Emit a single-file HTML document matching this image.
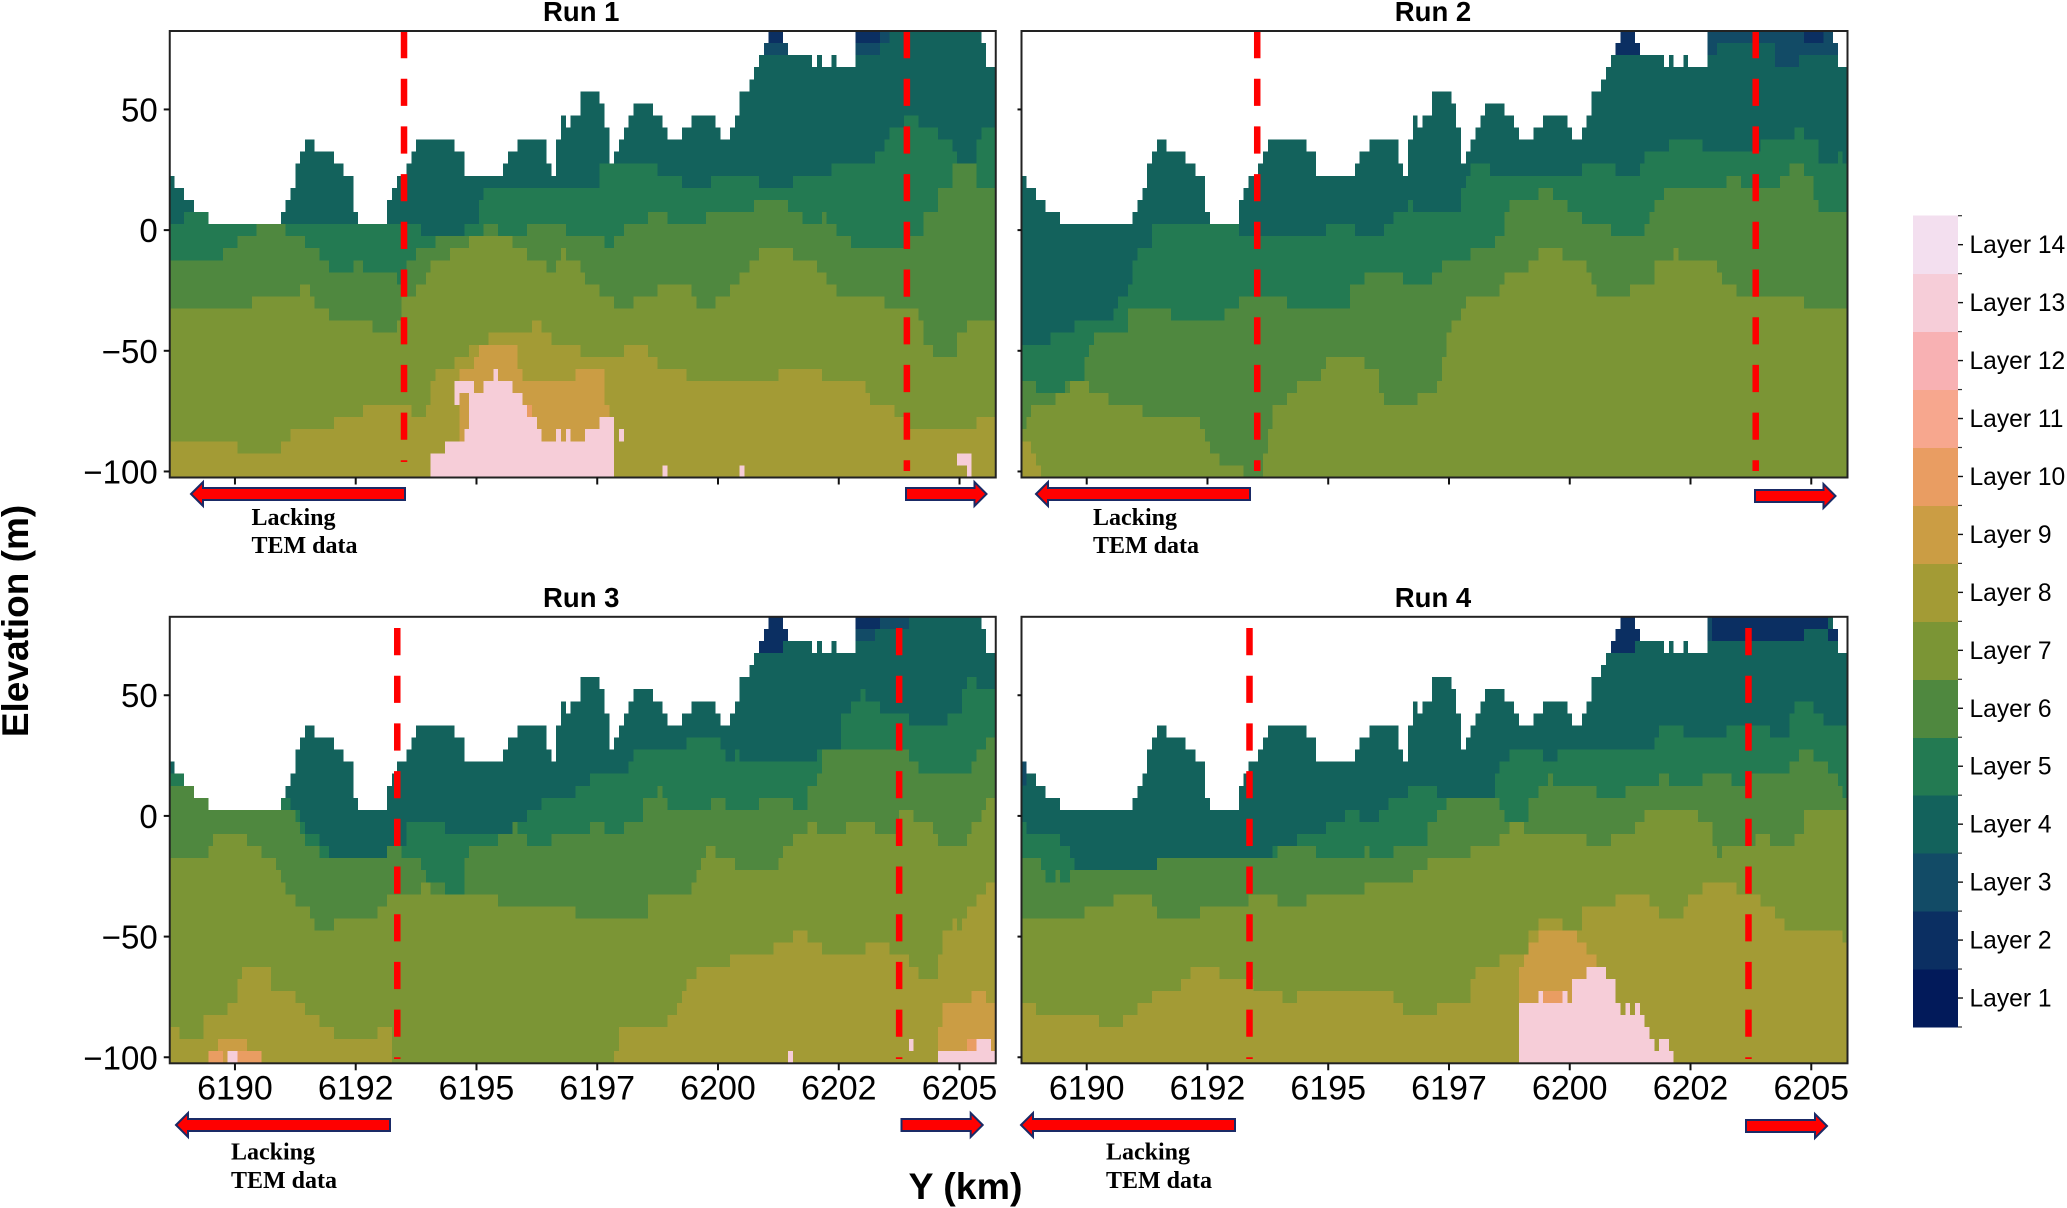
<!DOCTYPE html>
<html lang="en">
<head>
<meta charset="utf-8">
<title>Layer elevation sections, Runs 1 to 4</title>
<style>
html,body{margin:0;padding:0;background:#fff;width:2067px;height:1208px;overflow:hidden}
svg{display:block;font-family:"Liberation Sans",Arial,sans-serif}
.mark{shape-rendering:crispEdges}
</style>
</head>
<body>
<svg id="figure" xmlns="http://www.w3.org/2000/svg" width="2067" height="1208" viewBox="0 0 2067 1208">
<text transform="translate(28,621) rotate(-90)" text-anchor="middle" font-size="37" font-weight="bold" fill="#000">Elevation (m)</text>
<text x="965.5" y="1199" text-anchor="middle" font-size="37.5" font-weight="bold" fill="#000">Y (km)</text>
</svg>
<script>
// Layer legend
const layerNames = ['Layer 1','Layer 2','Layer 3','Layer 4','Layer 5','Layer 6','Layer 7','Layer 8','Layer 9','Layer 10','Layer 11','Layer 12','Layer 13','Layer 14'];
const layerColors = ['#021a5a','#0b2f62','#124b66','#13625c','#237a52','#4f883f','#7b9535','#a39b35','#cb9d44','#e99d62','#f7a78e','#f8b1b3','#f6cdd8','#f3dfef'];

// Axis ticks
const xTickValues = [6190,6192.5,6195,6197.5,6200,6202.5,6205];
const xTickLabels = ['6190','6192','6195','6197','6200','6202','6205'];
const yTickValues = [50,0,-50,-100];
const yTickLabels = ['50','0','\u221250','\u2212100'];

// Step profiles: [distance along section in km from section start, elevation in m]
const surface = [[0,22.5],[.1,17.5],[.3,12.5],[.5,7.5],[.8,2.5],[2.3,7.5],[2.4,12.5],[2.5,17.5],[2.6,27.5],[2.7,32.5],[2.8,37.5],[3.0,32.5],[3.4,27.5],[3.6,22.5],[3.8,7.5],[3.9,2.5],[4.5,12.5],[4.6,17.5],[4.7,22.5],[4.9,27.5],[5.0,32.5],[5.1,37.5],[5.9,32.5],[6.1,22.5],[6.9,27.5],[7.0,32.5],[7.2,37.5],[7.8,27.5],[7.9,22.5],[8.0,37.5],[8.1,47.5],[8.2,42.5],[8.3,47.5],[8.5,57.5],[8.9,52.5],[9.0,42.5],[9.1,27.5],[9.2,32.5],[9.3,37.5],[9.4,42.5],[9.5,47.5],[9.6,52.5],[10.0,47.5],[10.2,42.5],[10.3,37.5],[10.6,42.5],[10.8,47.5],[11.3,42.5],[11.4,37.5],[11.6,42.5],[11.7,47.5],[11.8,57.5],[12.0,62.5],[12.1,67.5],[12.2,72.5],[12.3,77.5],[12.4,82.5],[12.7,77.5],[12.8,72.5],[13.3,67.5],[13.4,72.5],[13.5,67.5],[13.7,72.5],[13.8,67.5],[14.2,82.5],[16.8,77.5],[16.9,67.5]];

const run1Layer5 = [[0,2.5],[.3,7.5],[.8,2.5],[5.2,-2.5],[6.1,2.5],[6.4,12.5],[6.5,17.5],[8.9,27.5],[10.1,22.5],[10.6,17.5],[11.2,22.5],[12.2,17.5],[12.9,22.5],[13.7,27.5],[14.6,32.5],[14.8,37.5],[14.9,42.5],[15.2,47.5],[15.5,42.5],[15.9,37.5],[16.2,32.5],[16.3,27.5],[16.7,37.5],[16.8,42.5]];
const run1Layer6 = [[0,-12.5],[1.1,-7.5],[1.4,-2.5],[1.8,2.5],[2.4,-2.5],[2.8,-7.5],[3.1,-12.5],[3.3,-17.5],[3.8,-12.5],[4.0,-17.5],[4.7,-22.5],[4.9,-12.5],[5.1,-7.5],[5.5,-2.5],[6.5,2.5],[6.8,-2.5],[7.4,2.5],[8.2,-2.5],[9.0,-7.5],[9.2,-2.5],[9.4,2.5],[9.9,7.5],[10.3,2.5],[11.1,7.5],[12.1,12.5],[12.8,7.5],[13.1,2.5],[13.5,7.5],[13.6,2.5],[13.8,-2.5],[14.1,-7.5],[15.3,-2.5],[15.6,7.5],[15.9,17.5],[16.2,27.5],[16.7,17.5]];
const run1Layer7 = [[0,-32.5],[1.7,-27.5],[2.7,-22.5],[2.9,-27.5],[3.0,-32.5],[3.3,-37.5],[4.2,-42.5],[4.7,-37.5],[4.8,-27.5],[5.1,-22.5],[5.3,-17.5],[5.4,-12.5],[5.8,-7.5],[6.2,-2.5],[7.1,-7.5],[7.4,-12.5],[7.8,-17.5],[8.0,-12.5],[8.1,-7.5],[8.2,-12.5],[8.5,-17.5],[8.6,-22.5],[8.9,-27.5],[9.2,-32.5],[9.6,-27.5],[10.1,-22.5],[10.8,-27.5],[10.9,-32.5],[11.3,-27.5],[11.6,-22.5],[11.8,-17.5],[12.0,-12.5],[12.2,-7.5],[12.9,-12.5],[13.4,-17.5],[13.6,-22.5],[13.8,-27.5],[14.8,-32.5],[15.5,-37.5],[15.6,-47.5],[15.8,-52.5],[16.3,-42.5],[16.5,-37.5]];
const run1Layer8 = [[0,-87.5],[1.4,-92.5],[2.3,-87.5],[2.5,-82.5],[3.4,-77.5],[4.0,-72.5],[5.0,-77.5],[5.3,-72.5],[5.4,-62.5],[5.5,-57.5],[5.9,-52.5],[6.2,-47.5],[6.6,-42.5],[7.5,-37.5],[7.7,-42.5],[7.9,-47.5],[8.5,-52.5],[9.4,-47.5],[9.9,-52.5],[10.1,-57.5],[10.7,-62.5],[12.6,-57.5],[13.5,-62.5],[14.4,-67.5],[14.5,-72.5],[15.0,-77.5],[15.3,-82.5],[16.7,-77.5]];
// Patches: [layer number, bottom elevation, end distance, step profile]
const run1Patches = [
 [2,77.5,12.7,[[12.4,82.5]]],[3,72.5,12.8,[[12.3,77.5]]],[2,77.5,14.7,[[14.2,82.5]]],[3,72.5,14.7,[[14.2,77.5]]],[3,77.5,14.9,[[14.7,82.5]]],
 [9,-90,9.2,[[6.0,-57.5],[6.3,-52.5],[6.4,-47.5],[7.2,-57.5],[7.3,-62.5],[8.4,-57.5],[9.0,-72.5],[9.1,-77.5]]],
 [10,-90,7.7,[[7.4,-72.5],[7.5,-77.5],[7.6,-82.5]]],[10,-82.5,9.2,[[9.1,-77.5]]],
 [13,-102.5,9.2,[[5.4,-92.5],[5.7,-87.5],[6.1,-82.5],[6.2,-67.5],[6.5,-62.5],[6.7,-57.5],[6.8,-62.5],[7.1,-67.5],[7.3,-72.5],[7.4,-77.5],[7.6,-82.5],[7.7,-87.5],[8.0,-82.5],[8.1,-87.5],[8.2,-82.5],[8.3,-87.5],[8.6,-82.5],[8.9,-77.5]]],
 [13,-72.5,6.0,[[5.9,-62.5]]],[13,-67.5,6.3,[[6.0,-62.5]]],[13,-87.5,9.4,[[9.3,-82.5]]],[13,-102.5,10.3,[[10.2,-97.5]]],[13,-102.5,11.9,[[11.8,-97.5]]],[13,-97.5,16.6,[[16.3,-92.5]]],[13,-102.5,16.6,[[16.5,-97.5]]]
];

const run2Layer5 = [[0,-47.5],[.6,-42.5],[1.1,-37.5],[1.9,-32.5],[2.0,-27.5],[2.2,-22.5],[2.3,-12.5],[2.4,-7.5],[2.7,2.5],[4.5,-2.5],[6.3,2.5],[6.9,-2.5],[7.5,2.5],[7.7,7.5],[8.0,12.5],[8.1,7.5],[9.1,17.5],[9.2,22.5],[9.3,27.5],[9.7,22.5],[11.6,27.5],[12.3,22.5],[12.8,27.5],[12.9,32.5],[13.4,37.5],[14.1,32.5],[15.3,37.5],[16.0,42.5],[16.2,37.5],[16.5,27.5],[16.9,32.5],[17.0,27.5]];
const run2Layer6 = [[0,-62.5],[.3,-67.5],[.9,-62.5],[1.3,-52.5],[1.4,-47.5],[1.5,-42.5],[2.2,-32.5],[3.1,-37.5],[4.2,-32.5],[4.5,-27.5],[5.5,-32.5],[6.8,-22.5],[7.1,-17.5],[7.9,-22.5],[8.5,-17.5],[8.7,-12.5],[9.3,-7.5],[9.8,-2.5],[10.0,7.5],[10.1,12.5],[10.7,17.5],[11.0,12.5],[11.3,7.5],[11.6,2.5],[12.2,-2.5],[12.9,2.5],[13.0,7.5],[13.1,12.5],[13.3,17.5],[14.6,22.5],[14.9,17.5],[15.7,22.5],[15.9,27.5],[16.2,22.5],[16.4,12.5],[16.5,7.5]];
const run2Layer7 = [[0,-82.5],[.1,-77.5],[.2,-72.5],[.7,-67.5],[1.0,-62.5],[1.4,-67.5],[1.8,-72.5],[2.5,-77.5],[3.7,-82.5],[3.8,-87.5],[3.9,-92.5],[4.1,-97.5],[4.6,-102.5],[5.0,-92.5],[5.1,-82.5],[5.2,-72.5],[5.5,-67.5],[5.7,-62.5],[6.2,-57.5],[6.3,-52.5],[7.1,-57.5],[7.4,-67.5],[7.5,-72.5],[8.2,-67.5],[8.6,-62.5],[8.7,-52.5],[8.8,-42.5],[8.9,-37.5],[9.1,-32.5],[9.2,-27.5],[9.9,-22.5],[10.0,-17.5],[10.5,-12.5],[10.7,-7.5],[11.2,-12.5],[11.7,-17.5],[11.8,-22.5],[11.9,-27.5],[12.6,-22.5],[13.1,-12.5],[13.5,-7.5],[13.6,-12.5],[14.4,-17.5],[14.5,-22.5],[14.8,-27.5],[16.2,-32.5]];
const run2Layer8 = [[0,-87.5],[.2,-92.5],[.3,-97.5],[.4,-102.5]];
const run2Patches = [
 [3,77.5,16.8,[[14.2,82.5]]],[3,72.5,14.4,[[14.2,77.5]]],[3,72.5,16.9,[[15.6,77.5]]],[3,67.5,16.1,[[15.6,72.5]]],
 [2,77.5,12.7,[[12.4,82.5]]],[2,72.5,12.8,[[12.3,77.5]]],[2,77.5,16.6,[[16.2,82.5]]]
];

const run3Layer5 = [[0,17.5],[.3,12.5],[2.4,7.5],[2.5,2.5],[2.7,-2.5],[2.8,-7.5],[3.1,-12.5],[3.3,-17.5],[4.5,-12.5],[4.9,-2.5],[5.7,-7.5],[7.1,-2.5],[7.4,2.5],[7.7,7.5],[8.4,12.5],[8.7,17.5],[9.5,22.5],[9.6,27.5],[10.7,32.5],[11.4,27.5],[11.5,22.5],[11.7,27.5],[11.8,22.5],[13.4,27.5],[13.9,42.5],[14.1,47.5],[14.3,52.5],[14.4,47.5],[14.7,42.5],[15.3,37.5],[16.1,42.5],[16.4,52.5],[16.5,57.5],[16.7,52.5]];
const run3Layer6 = [[0,12.5],[.5,7.5],[.8,2.5],[2.6,-2.5],[2.7,-7.5],[2.8,-12.5],[3.1,-17.5],[4.5,-12.5],[4.8,-17.5],[5.2,-22.5],[5.3,-27.5],[5.7,-32.5],[6.1,-17.5],[6.2,-12.5],[6.8,-7.5],[7.1,-2.5],[7.2,-7.5],[7.4,-12.5],[7.9,-7.5],[8.7,-2.5],[9.0,-7.5],[9.4,-2.5],[9.8,7.5],[10.1,12.5],[10.2,7.5],[10.3,2.5],[11.2,7.5],[11.5,2.5],[12.2,7.5],[12.9,2.5],[13.2,12.5],[13.4,17.5],[13.5,27.5],[15.3,22.5],[15.5,17.5],[16.6,22.5],[16.7,27.5],[16.9,32.5]];
const run3Layer7 = [[0,-17.5],[.8,-12.5],[.9,-7.5],[1.6,-12.5],[1.9,-17.5],[2.2,-22.5],[2.3,-27.5],[2.4,-32.5],[2.6,-37.5],[2.9,-42.5],[3.0,-47.5],[3.4,-42.5],[4.3,-37.5],[4.5,-32.5],[5.2,-27.5],[5.4,-32.5],[6.8,-37.5],[8.4,-42.5],[9.9,-32.5],[10.8,-27.5],[10.9,-22.5],[11.0,-17.5],[11.1,-12.5],[11.3,-17.5],[11.7,-22.5],[12.6,-17.5],[12.7,-12.5],[12.9,-7.5],[13.2,-2.5],[13.4,-7.5],[14.0,-2.5],[14.6,-7.5],[15.1,2.5],[15.4,-2.5],[15.8,-7.5],[15.9,-12.5],[16.5,-7.5],[16.6,-2.5],[16.8,2.5],[16.9,7.5]];
const run3Layer8 = [[0,-87.5],[.2,-92.5],[.7,-82.5],[1.2,-77.5],[1.4,-67.5],[1.5,-62.5],[2.1,-72.5],[2.6,-77.5],[2.8,-82.5],[3.1,-87.5],[3.4,-92.5],[4.3,-87.5],[4.6,-102.5],[9.2,-97.5],[9.3,-87.5],[10.3,-82.5],[10.5,-77.5],[10.6,-72.5],[10.7,-67.5],[10.9,-62.5],[11.6,-57.5],[12.5,-52.5],[12.9,-47.5],[13.2,-52.5],[13.5,-57.5],[14.4,-52.5],[14.9,-57.5],[15.3,-62.5],[15.5,-67.5],[15.9,-57.5],[16.0,-47.5],[16.2,-42.5],[16.3,-47.5],[16.4,-42.5],[16.5,-37.5],[16.7,-32.5],[16.9,-27.5]];
const run3Patches = [
 [2,77.5,12.7,[[12.4,82.5]]],[2,72.5,12.8,[[12.3,77.5]]],[2,67.5,12.7,[[12.2,72.5]]],[2,77.5,14.7,[[14.2,82.5]]],[3,72.5,14.6,[[14.2,77.5]]],[3,77.5,15.3,[[14.7,82.5]]],
 [9,-102.5,1.6,[[1.0,-92.5]]],[10,-102.5,1.1,[[.8,-97.5]]],[10,-102.5,1.9,[[1.4,-97.5]]],[13,-102.5,1.4,[[1.2,-97.5]]],
 [13,-102.5,12.9,[[12.8,-97.5]]],[13,-97.5,15.4,[[15.3,-92.5]]],
 [9,-102.5,17.1,[[15.9,-87.5],[16.0,-77.5],[16.6,-72.5],[16.9,-77.5]]],
 [10,-97.5,16.7,[[16.5,-92.5]]],
 [13,-102.5,17.1,[[15.9,-97.5],[16.7,-92.5],[17.0,-97.5]]]
];

const run4Layer5 = [[0,-2.5],[.1,-7.5],[.8,-12.5],[1.0,-17.5],[1.1,-22.5],[2.8,-17.5],[5.2,-12.5],[5.7,-7.5],[6.3,-2.5],[6.7,2.5],[7.0,-2.5],[7.4,2.5],[7.6,7.5],[8.0,12.5],[8.6,7.5],[9.8,17.5],[9.9,22.5],[10.1,27.5],[10.8,22.5],[11.1,27.5],[13.1,32.5],[13.2,37.5],[13.7,32.5],[14.6,37.5],[15.5,32.5],[15.9,42.5],[16.0,47.5],[16.4,42.5],[16.6,37.5]];
const run4Layer6 = [[0,-17.5],[.4,-22.5],[.5,-27.5],[.7,-22.5],[.8,-27.5],[1.0,-22.5],[2.8,-17.5],[5.3,-12.5],[6.1,-17.5],[7.1,-12.5],[7.2,-17.5],[7.7,-12.5],[8.4,-2.5],[8.6,2.5],[8.8,7.5],[9.9,2.5],[10.0,-2.5],[10.5,7.5],[10.7,12.5],[10.9,17.5],[11.0,12.5],[11.9,7.5],[12.5,12.5],[13.2,17.5],[13.4,12.5],[14.1,17.5],[14.7,12.5],[15.0,17.5],[15.9,22.5],[16.1,27.5],[16.4,22.5],[16.7,17.5],[16.9,12.5],[17.0,7.5]];
const run4Layer7 = [[0,-42.5],[1.3,-37.5],[1.9,-32.5],[2.7,-37.5],[2.8,-42.5],[3.7,-37.5],[4.7,-32.5],[5.3,-37.5],[5.9,-32.5],[7.1,-27.5],[8.1,-22.5],[8.4,-17.5],[9.3,-12.5],[9.9,-7.5],[10.1,-2.5],[10.4,-7.5],[11.7,-12.5],[12.2,-7.5],[12.7,-2.5],[12.9,2.5],[14.0,-2.5],[14.3,-12.5],[14.4,-17.5],[14.5,-12.5],[15.2,-7.5],[15.5,-12.5],[16.0,-7.5],[16.2,2.5]];
const run4Layer8 = [[0,-77.5],[.3,-82.5],[1.6,-87.5],[2.1,-82.5],[2.4,-77.5],[2.7,-72.5],[3.3,-67.5],[3.5,-62.5],[4.1,-67.5],[4.8,-72.5],[5.4,-77.5],[5.7,-72.5],[7.7,-77.5],[7.9,-82.5],[8.6,-77.5],[9.3,-67.5],[9.4,-62.5],[9.9,-57.5],[10.5,-47.5],[10.7,-42.5],[11.2,-47.5],[11.6,-37.5],[12.3,-32.5],[13.0,-37.5],[13.2,-42.5],[13.7,-37.5],[13.8,-32.5],[14.1,-27.5],[14.8,-32.5],[15.3,-37.5],[15.6,-42.5],[15.8,-47.5],[17.0,-52.5]];
const run4Patches = [
 [3,12.5,.1,[[0,22.5]]],
 [2,77.5,12.7,[[12.4,82.5]]],[2,72.5,12.8,[[12.3,77.5]]],[2,67.5,12.7,[[12.2,72.5]]],
 [3,72.5,14.3,[[14.2,82.5]]],[2,72.5,16.2,[[14.3,82.5]]],[2,77.5,16.7,[[16.2,82.5]]],[2,72.5,16.9,[[16.7,77.5]]],
 [9,-80,12.0,[[10.3,-62.5],[10.4,-57.5],[10.5,-52.5],[10.7,-47.5],[11.5,-52.5],[11.7,-57.5],[11.9,-62.5]]],
 [10,-77.5,11.3,[[10.8,-72.5]]],
 [13,-102.5,13.5,[[10.3,-77.5],[10.7,-72.5],[10.8,-77.5],[11.2,-72.5],[11.3,-77.5],[11.4,-67.5],[11.7,-62.5],[12.1,-67.5],[12.3,-77.5],[12.4,-82.5],[12.5,-77.5],[12.6,-82.5],[12.7,-77.5],[12.8,-82.5],[12.9,-87.5],[13.0,-92.5],[13.1,-97.5],[13.2,-92.5],[13.4,-97.5]]]
];

// Lacking-TEM limits for each run, Y km
const run1Limits = [6193.5,6203.91];
const run2Limits = [6193.53,6203.85];
const run3Limits = [6193.36,6203.75];
const run4Limits = [6193.37,6203.7];

const xStart = 6188.65, xEnd = 6205.75, colStep = 0.1;
const yTop = 82.5, yBottom = -102.5;
const NS = 'http://www.w3.org/2000/svg';
const svg = document.getElementById('figure');
const panelW = 826, panelH = 446.5;

function stepValue(steps, d){
  let v = null;
  for (const s of steps){ if (s[0] <= d + 1e-6) v = s[1]; else break; }
  return v;
}
function node(tag, attrs, parent){
  const el = document.createElementNS(NS, tag);
  for (const k in attrs) el.setAttribute(k, attrs[k]);
  parent.appendChild(el);
  return el;
}
function drawProfile(g, px, py, steps, d0, d1, bottom, color, name){
  const n0 = Math.round(d0 / colStep), n1 = Math.round(d1 / colStep);
  let p = 'M' + px(xStart + d0) + ' ' + py(bottom);
  for (let i = n0; i < n1; i++){
    const d = i * colStep;
    let top = Math.min(stepValue(steps, d), stepValue(surface, d));
    if (top < bottom) top = bottom;
    p += 'V' + py(top).toFixed(2) + 'H' + px(xStart + (i + 1) * colStep).toFixed(2);
  }
  p += 'V' + py(bottom) + 'Z';
  const el = node('path', {d: p, fill: color, 'class': 'mark'}, g);
  
  
}
function drawArrow(x1, x2, y, pointsLeft, name){
  const head = 12, hs = 6, hh = 12;
  let pts;
  if (pointsLeft){
    pts = [[x1,y],[x1+head,y-hh],[x1+head,y-hs],[x2,y-hs],[x2,y+hs],[x1+head,y+hs],[x1+head,y+hh]];
  } else {
    pts = [[x2,y],[x2-head,y-hh],[x2-head,y-hs],[x1,y-hs],[x1,y+hs],[x2-head,y+hs],[x2-head,y+hh]];
  }
  const el = node('polygon', {points: pts.map(a => a.join(',')).join(' '), fill: '#ff0000', stroke: '#1a2a66', 'stroke-width': 2}, svg);
  
  
}
function drawNote(x, y1, y2, name){
  const g = node('g', {'font-family': '"Liberation Serif",serif', 'font-weight': 'bold', 'font-size': 24, fill: '#000'}, svg);
  
  
  const a = node('text', {x: x, y: y1}, g);
  a.textContent = 'Lacking';
  
  
  const b = node('text', {x: x, y: y2}, g);
  b.textContent = 'TEM data';
  
  
}

function drawPanel(cfg){
  const px = km => cfg.left + (km - xStart) / (xEnd - xStart) * panelW;
  const py = e => cfg.top + (yTop - e) / (yTop - yBottom) * panelH;
  const dEnd = Math.round((xEnd - xStart) * 10) / 10;
  const g = node('g', {}, svg);
  
  

  drawProfile(g, px, py, surface, 0, dEnd, yBottom, layerColors[3], cfg.id + '-layer-4');
  cfg.layers.forEach((steps, i) => {
    drawProfile(g, px, py, steps, 0, dEnd, yBottom, layerColors[4 + i], cfg.id + '-layer-' + (5 + i));
  });
  cfg.patches.forEach((pt, i) => {
    drawProfile(g, px, py, pt[3], pt[3][0][0], pt[2], pt[1], layerColors[pt[0] - 1], cfg.id + '-layer-' + pt[0] + '-patch-' + i);
  });

  cfg.limits.forEach((km, i) => {
    const ln = node('line', {x1: px(km), x2: px(km), y1: cfg.dashTop, y2: i === 0 ? cfg.dashEndL : cfg.dashEndR, stroke: '#ff0000', 'stroke-width': 6.5, 'stroke-dasharray': '27.2 20.5'}, g);
    
    
  });

  const frame = node('rect', {x: cfg.left, y: cfg.top, width: panelW, height: panelH, fill: 'none', stroke: '#222', 'stroke-width': 2}, g);
  
  

  const title = node('text', {x: cfg.left + panelW / 2 - 1.5, y: cfg.top - 10, 'text-anchor': 'middle', 'font-size': 27.5, 'font-weight': 'bold', fill: '#000'}, svg);
  title.textContent = cfg.title;
  
  

  xTickValues.forEach((km, i) => {
    const t = node('line', {x1: px(km), x2: px(km), y1: cfg.top + panelH, y2: cfg.top + panelH + 7, stroke: '#111', 'stroke-width': 2}, g);
    
    
    if (cfg.xLabels){
      const lb = node('text', {x: px(km), y: cfg.top + panelH + 36, 'text-anchor': 'middle', 'font-size': 34, fill: '#000'}, svg);
      lb.textContent = xTickLabels[i];
      
      
    }
  });
  yTickValues.forEach((v, i) => {
    const t = node('line', {x1: cfg.left - (cfg.yLabels ? 6 : 4), x2: cfg.left, y1: py(v), y2: py(v), stroke: '#111', 'stroke-width': 2}, g);
    
    
    if (cfg.yLabels){
      const lb = node('text', {x: cfg.left - 12, y: py(v) + 12, 'text-anchor': 'end', 'font-size': 33, fill: '#000'}, svg);
      lb.textContent = yTickLabels[i];
      
      
    }
  });
}

drawPanel({id:'run-1', title:'Run 1', left:169.75, top:31, layers:[run1Layer5,run1Layer6,run1Layer7,run1Layer8], patches:run1Patches, limits:run1Limits, dashTop:31, dashEndL:462, dashEndR:471, xLabels:false, yLabels:true});
drawPanel({id:'run-2', title:'Run 2', left:1021.5, top:31, layers:[run2Layer5,run2Layer6,run2Layer7,run2Layer8], patches:run2Patches, limits:run2Limits, dashTop:31, dashEndL:471, dashEndR:471, xLabels:false, yLabels:false});
drawPanel({id:'run-3', title:'Run 3', left:169.75, top:616.8, layers:[run3Layer5,run3Layer6,run3Layer7,run3Layer8], patches:run3Patches, limits:run3Limits, dashTop:628, dashEndL:1059, dashEndR:1059, xLabels:true, yLabels:true});
drawPanel({id:'run-4', title:'Run 4', left:1021.5, top:616.8, layers:[run4Layer5,run4Layer6,run4Layer7,run4Layer8], patches:run4Patches, limits:run4Limits, dashTop:628, dashEndL:1059, dashEndR:1059, xLabels:true, yLabels:false});

drawArrow(191,405,494,true,'run-1-left-arrow');
drawArrow(906,986.5,494,false,'run-1-right-arrow');
drawArrow(1036,1250,494,true,'run-2-left-arrow');
drawArrow(1755,1835.5,496,false,'run-2-right-arrow');
drawArrow(176,390,1125,true,'run-3-left-arrow');
drawArrow(901.5,982.7,1125,false,'run-3-right-arrow');
drawArrow(1021,1235,1125,true,'run-4-left-arrow');
drawArrow(1746,1827,1126,false,'run-4-right-arrow');

drawNote(251.5,525,553,'run-1-lacking-tem-note');
drawNote(1093,525,553,'run-2-lacking-tem-note');
drawNote(231,1159.6,1188,'run-3-lacking-tem-note');
drawNote(1106,1159.6,1188,'run-4-lacking-tem-note');

// Colour bar
const cbar = node('g', {}, svg);


const cbLeft = 1913, cbRight = 1958, cbBottom = 1027, cbStep = 57.95;
layerNames.forEach((nm, i) => {
  const yTopSeg = cbBottom - (i + 1) * cbStep;
  const seg = node('rect', {x: cbLeft, y: yTopSeg, width: cbRight - cbLeft, height: cbStep + 0.5, fill: layerColors[i], 'class': 'mark'}, cbar);
  
  
  const edge = node('line', {x1: cbRight, x2: cbRight + 4, y1: yTopSeg, y2: yTopSeg, stroke: '#333', 'stroke-width': 1.2}, cbar);
  
  
  const mid = yTopSeg + cbStep / 2;
  const tick = node('line', {x1: cbRight, x2: cbRight + 5, y1: mid, y2: mid, stroke: '#111', 'stroke-width': 1.4}, cbar);
  
  
  const lb = node('text', {x: 1969.5, y: mid + 8.5, 'font-size': 24.6, fill: '#000'}, cbar);
  lb.textContent = nm;
  
  
});
const cbEdge = node('line', {x1: cbRight, x2: cbRight + 4, y1: cbBottom, y2: cbBottom, stroke: '#333', 'stroke-width': 1.2}, cbar);


</script>
</body>
</html>
